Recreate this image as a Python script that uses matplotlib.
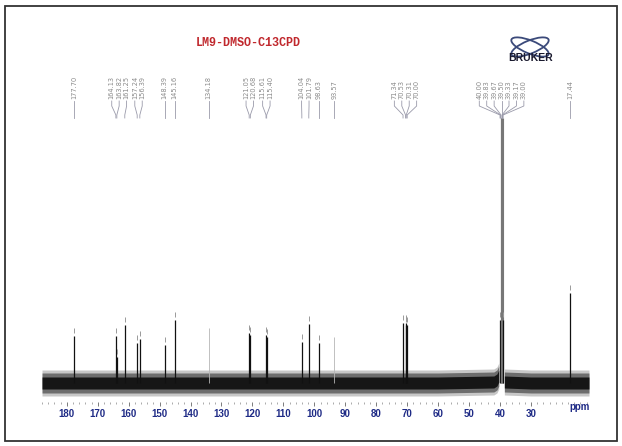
import matplotlib
matplotlib.use('Agg')
import matplotlib.pyplot as plt
from matplotlib import ticker, transforms
from matplotlib.patches import Rectangle, Ellipse
import numpy as np

# peak list (ppm) and apparent heights above baseline
peak_ppm = [177.70, 164.13, 163.82, 161.25, 157.24, 156.39, 148.39, 145.16,
            134.18, 121.05, 120.68, 115.61, 115.40, 104.04, 101.79, 98.63,
            93.57, 71.34, 70.53, 70.31, 70.00,
            40.00, 39.83, 39.67, 39.50, 39.33, 39.17, 39.00, 17.44]
peak_h = [47, 47, 26, 58, 40, 44, 38, 63,
          55, 50, 48, 48, 46, 41, 59, 40,
          46, 60, 58, 60, 58,
          63, 265, 265, 265, 265, 265, 63, 90]
faint = [134.18, 93.57]
solvent = [39.83, 39.67, 39.50, 39.33, 39.17]

# noise band envelope (centre offset)
noise_ppm_a = [188.0, 60.0, 42.0, 41.0, 40.4]
noise_mid_a = [0, 0, 1, 3, 7]
noise_ppm_b = [38.6, 30.0, 11.25]
noise_mid_b = [1, 0, 0]

tick_vals = list(range(180, 20, -10))
title = 'LM9-DMSO-C13CPD'


def spread(pos, s):
    groups = [[p] for p in pos]
    changed = True
    while changed:
        changed = False
        for i in range(len(groups) - 1):
            a, b = groups[i], groups[i + 1]
            lo_a = np.mean(a) - s * (len(a) - 1) / 2
            hi_b = np.mean(b) + s * (len(b) - 1) / 2
            if lo_a - hi_b < s:
                groups[i] = a + b
                del groups[i + 1]
                changed = True
                break
    out = []
    for g in groups:
        c = np.mean(g)
        n = len(g)
        out += [c + s * ((n - 1) / 2 - k) for k in range(n)]
    return out


fig = plt.figure(figsize=(6.22, 4.46), dpi=100)
ax = fig.add_axes([42 / 622, 44 / 446, 547 / 622, 382 / 446])
ax.set_xlim(188.0, 11.25)
ax.set_ylim(-19, 363)
for s in ax.spines.values():
    s.set_visible(False)
ax.set_yticks([])

# noise band
for px, mid in [(noise_ppm_a, noise_mid_a), (noise_ppm_b, noise_mid_b)]:
    mid = np.array(mid)
    ax.fill_between(px, mid - 13, mid + 13, color='k', alpha=0.22, lw=0)
    ax.fill_between(px, mid - 10, mid + 10, color='k', alpha=0.45, lw=0)
    ax.fill_between(px, mid - 6, mid + 6, color='k', alpha=0.8, lw=0)

# peaks
for p, h in zip(peak_ppm, peak_h):
    if p in faint:
        ax.vlines(p, 0, h, color='#b5b5b5', lw=0.6)
    elif p in solvent:
        ax.vlines(p, 0, h, color='#777777', lw=0.8)
    else:
        ax.vlines(p, 0, h, color='#111111', lw=0.9)
        ax.vlines(p, h + 3, h + 8, color='#999999', lw=0.7)

ax.xaxis.set_major_locator(ticker.FixedLocator(tick_vals))
ax.xaxis.set_minor_locator(ticker.MultipleLocator(2))
ax.set_xticklabels([str(t) for t in tick_vals], fontweight='bold',
                   color='#1f2b86', fontsize=7, family='Liberation Sans')
ax.tick_params(axis='x', which='major', length=3, width=0.6,
               color='#666666', pad=2)
ax.tick_params(axis='x', which='minor', length=1.5, width=0.5,
               color='#888888')
ax.text(0.983, 0.0, 'ppm', transform=ax.transAxes,
        ha='center', va='top', fontsize=7, fontweight='bold',
        color='#1f2b86', family='Liberation Sans')

# overlay in pixel coords
ov = fig.add_axes([0, 0, 1, 1], zorder=3)
ov.set_xlim(0, 622)
ov.set_ylim(446, 0)
ov.axis('off')
ov.patch.set_alpha(0)

ov.add_patch(Rectangle((5, 6), 612, 435, fill=False, ec='#333333', lw=1.3))
ov.text(248, 43, title, family='Liberation Mono', fontweight='bold',
        color='#c0282d', fontsize=8.5, ha='center', va='center')

# Bruker logo
ov.add_patch(Ellipse((530, 47), 40, 13, angle=22, fill=False,
                     ec='#3b4a7a', lw=1.3))
ov.add_patch(Ellipse((530, 47), 40, 13, angle=-22, fill=False,
                     ec='#3b4a7a', lw=1.3))
ov.text(531, 58, 'BRUKER', fontweight='bold', fontsize=7.5,
        family='Liberation Sans', color='#1a1a2e', ha='center', va='center')

# peak labels
trans = transforms.blended_transform_factory(ax.transData, ov.transData)
lab_x = spread(peak_ppm, 2.4)
for p, lx in zip(peak_ppm, lab_x):
    ov.text(lx, 99, f'{p:.2f}', rotation=90, ha='center', va='bottom',
            fontsize=4.8, color='#8a8a8a', transform=trans)
    ov.plot([lx, lx, p, p], [101, 106, 115, 118], color='#9a9aaa',
            lw=0.6, transform=trans)

fig.savefig('out.png', dpi=100)
